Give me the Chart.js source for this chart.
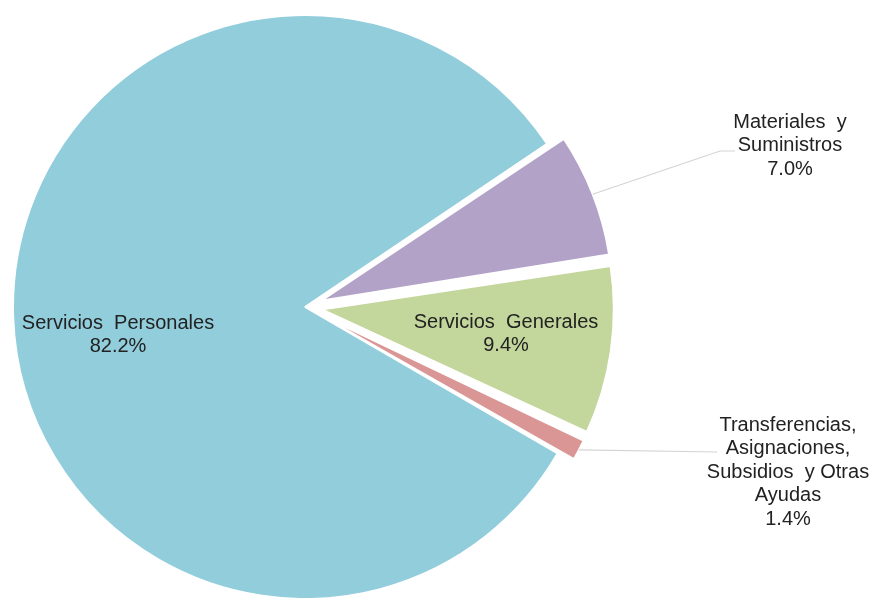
<!DOCTYPE html>
<html lang="es">
<head>
<meta charset="UTF-8" />
<title>Distribución del gasto por capítulo</title>
<script src="https://cdn.jsdelivr.net/npm/chart.js"></script>
<style>
  html, body { margin: 0; padding: 0; background: #fff; }
  #wrap { width: 873px; height: 598px; }
</style>
</head>
<body>
<div id="wrap"><canvas id="pieChart"></canvas></div>
<script>
// data
const categories = [
  "Materiales y Suministros",
  "Servicios Generales",
  "Transferencias, Asignaciones, Subsidios y Otras Ayudas",
  "Servicios Personales"
];
const shares = [7.0, 9.4, 1.4, 82.2];
const labelLines = [
  ["Materiales  y", "Suministros"],
  ["Servicios  Generales"],
  ["Transferencias,", "Asignaciones,", "Subsidios  y Otras", "Ayudas"],
  ["Servicios  Personales"]
];

// style / layout
const sliceColors = ["#B2A2C7", "#C3D69B", "#D99694", "#92CDDC"];
const explode = [68, 68, 68, 0]; // chart.js moves the slice by offset/4
const labelSpots = [
  { x: 790, y: 122, leader: [[720, 151], [735, 151]] },
  { x: 506, y: 322 },
  { x: 788, y: 425, leader: [[717, 452]] },
  { x: 118, y: 323 }
];
const lineGap = 23.6;

// chart.js also grows an offset slice by offset/4 * fix, undo that
const radiusFix = {
  id: "radiusFix",
  afterDatasetUpdate(chart, args) {
    args.meta.data.forEach((arc, i) => {
      const off = explode[i] / 4;
      const fix = 1 - Math.sin(Math.min(Math.PI, arc.circumference));
      arc.$grow = off * fix;
      arc.outerRadius -= arc.$grow;
    });
  }
};

const sliceLabels = {
  id: "sliceLabels",
  afterDatasetsDraw(chart) {
    const ctx = chart.ctx;
    const arcs = chart.getDatasetMeta(0).data;
    ctx.save();
    arcs.forEach((arc, i) => {
      const spot = labelSpots[i];
      if (spot.leader) {
        const mid = (arc.startAngle + arc.endAngle) / 2;
        const r = arc.outerRadius + (arc.$grow || 0) + explode[i] / 4;
        ctx.beginPath();
        ctx.moveTo(arc.x + Math.cos(mid) * r, arc.y + Math.sin(mid) * r);
        spot.leader.forEach(p => ctx.lineTo(p[0], p[1]));
        ctx.strokeStyle = "#d4d4d4";
        ctx.lineWidth = 1.2;
        ctx.stroke();
      }
      const lines = labelLines[i].concat([shares[i].toFixed(1) + "%"]);
      ctx.font = "20px 'Liberation Sans', Arial, sans-serif";
      ctx.fillStyle = "#222222";
      ctx.textAlign = "center";
      ctx.textBaseline = "middle";
      lines.forEach((t, k) => ctx.fillText(t, spot.x, spot.y + k * lineGap));
    });
    ctx.restore();
  }
};

new Chart(document.getElementById("pieChart"), {
  type: "pie",
  data: {
    labels: categories,
    datasets: [{
      data: shares,
      backgroundColor: sliceColors,
      borderColor: "#ffffff",
      borderWidth: 2,
      offset: explode
    }]
  },
  options: {
    responsive: true,
    maintainAspectRatio: false,
    animation: false,
    rotation: 56,
    radius: 292,
    layout: { padding: { left: 0, right: 263, top: 16, bottom: 0 } },
    plugins: {
      legend: { display: false },
      tooltip: { enabled: false }
    }
  },
  plugins: [radiusFix, sliceLabels]
});
</script>
</body>
</html>
